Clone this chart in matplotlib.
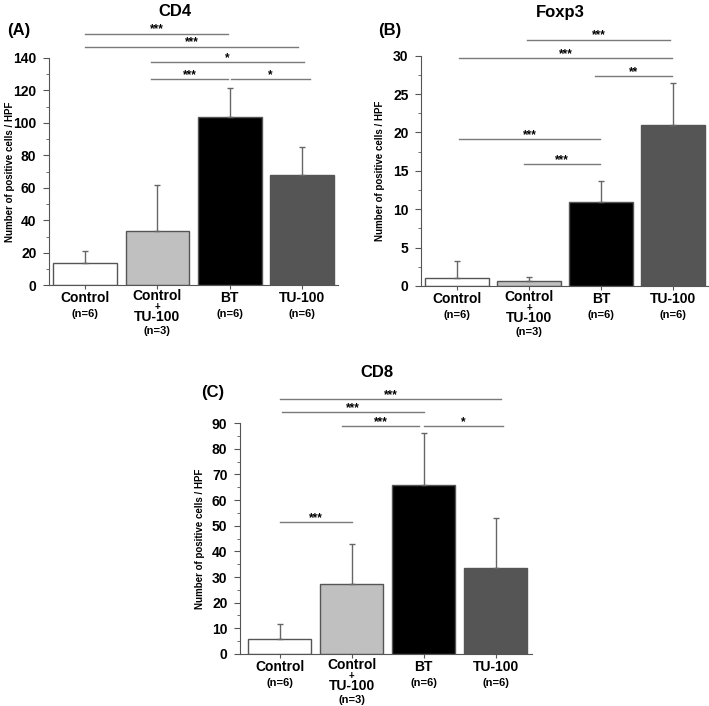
import matplotlib
matplotlib.use("Agg")
import matplotlib.pyplot as plt
from matplotlib.ticker import MultipleLocator

plt.rcParams['font.family'] = ['Liberation Sans', 'DejaVu Sans']
plt.rcParams['font.weight'] = 'bold'

# groups
groups = ["Control", "Control\n+\nTU-100", "BT", "TU-100"]
group_n = ["(n=6)", "(n=3)", "(n=6)", "(n=6)"]
bar_colors = ["#ffffff", "#c0c0c0", "#000000", "#555555"]

# CD4
cd4_mean = [13.5, 33.5, 103.5, 68]
cd4_err = [7.5, 28.5, 18, 17]
cd4_sig = [(0.0, 1.98, 155, "***"), (0.0, 2.95, 147, "***"),
           (0.91, 3.03, 137.5, "*"), (0.91, 1.98, 127, "***"),
           (2.02, 3.11, 127, "*")]

# Foxp3
foxp3_mean = [1.0, 0.7, 11.0, 21.0]
foxp3_err = [2.3, 0.4, 2.7, 5.5]
foxp3_sig = [(0.97, 2.96, 32.1, "***"), (0.03, 2.98, 29.7, "***"),
             (1.92, 2.98, 27.3, "**"), (0.03, 1.99, 19.1, "***"),
             (0.93, 1.99, 15.9, "***")]

# CD8
cd8_mean = [6, 27.2, 66, 33.5]
cd8_err = [5.5, 15.8, 20, 19.5]
cd8_sig = [(0.0, 3.08, 99.3, "***"), (0.03, 2.01, 94.3, "***"),
           (0.86, 1.94, 88.8, "***"), (2.0, 3.1, 88.8, "*"),
           (0.0, 1.01, 51.4, "***")]


def draw_panel(ax, means, errs, sigs, ymax, ystep, xlim, ylab_x):
    xs = range(len(means))
    ax.bar(xs, means, width=0.88, color=bar_colors, edgecolor="#555555", linewidth=1,
           yerr=[[0] * len(errs), errs],
           error_kw=dict(ecolor="#666666", elinewidth=1, capsize=2.5, capthick=1))
    ax.set_xlim(*xlim)
    ax.set_ylim(0, ymax)
    ax.yaxis.set_major_locator(MultipleLocator(ystep))
    ax.yaxis.set_minor_locator(MultipleLocator(ystep / 2))
    for s in ["top", "right"]:
        ax.spines[s].set_visible(False)
    for s in ["left", "bottom"]:
        ax.spines[s].set_color("#555555")
    ax.tick_params(axis="y", labelsize=10, length=4, color="#555555", pad=5)
    ax.tick_params(axis="y", which="minor", length=2, color="#555555")
    ax.tick_params(axis="x", length=3, color="#555555")
    ax.set_xticks(list(xs))
    ax.set_xticklabels([])
    for lab in ax.get_yticklabels():
        lab.set_fontweight("bold")
    ax.set_ylabel("Number of positive cells / HPF", fontsize=7, fontweight="bold")
    ax.yaxis.set_label_coords(ylab_x, 0.5)

    # x labels
    for i, (g, n) in enumerate(zip(groups, group_n)):
        if "+" in g:
            parts = [("Control", -11, 10), ("+", -22, 7), ("TU-100", -32, 10), (n, -46, 8)]
        else:
            parts = [(g, -13, 10), (n, -29, 8)]
        for txt, dy, fs in parts:
            ax.annotate(txt, xy=(i, 0), xycoords=("data", "axes fraction"),
                        xytext=(0, dy * 0.72), textcoords="offset points",
                        ha="center", va="center", fontsize=fs, fontweight="bold",
                        annotation_clip=False)

    # significance lines
    for x1, x2, y, lab in sigs:
        ax.plot([x1, x2], [y, y], color="#7a7a7a", lw=1, clip_on=False)
        ax.annotate(lab, xy=((x1 + x2) / 2, y), xytext=(0, 3), textcoords="offset points",
                    ha="center", va="center", fontsize=8.5, fontweight="bold",
                    annotation_clip=False)
    return ax


fig = plt.figure(figsize=(7.09, 7.06), dpi=100)

ax_a = fig.add_axes([0.069, 0.596, 0.408, 0.322])
draw_panel(ax_a, cd4_mean, cd4_err, cd4_sig, 140, 20, (-0.5, 3.5), -0.118)
ax_b = fig.add_axes([0.594, 0.595, 0.406, 0.326])
draw_panel(ax_b, foxp3_mean, foxp3_err, foxp3_sig, 30, 5, (-0.5, 3.5), -0.125)
ax_c = fig.add_axes([0.3385, 0.0737, 0.4115, 0.327])
draw_panel(ax_c, cd8_mean, cd8_err, cd8_sig, 90, 10, (-0.55, 3.5), -0.12)

# titles and panel tags
fig.text(175 / 709, 1 - 12 / 706, "CD4", ha="center", va="center", fontsize=12, fontweight="bold")
fig.text(7 / 709, 1 - 30 / 706, "(A)", ha="left", va="center", fontsize=12, fontweight="bold")
fig.text(560 / 709, 1 - 12 / 706, "Foxp3", ha="center", va="center", fontsize=12, fontweight="bold")
fig.text(378 / 709, 1 - 30 / 706, "(B)", ha="left", va="center", fontsize=12, fontweight="bold")
fig.text(377 / 709, 1 - 373 / 706, "CD8", ha="center", va="center", fontsize=12, fontweight="bold")
fig.text(201 / 709, 1 - 392 / 706, "(C)", ha="left", va="center", fontsize=12, fontweight="bold")

fig.savefig("out.png", dpi=100)
